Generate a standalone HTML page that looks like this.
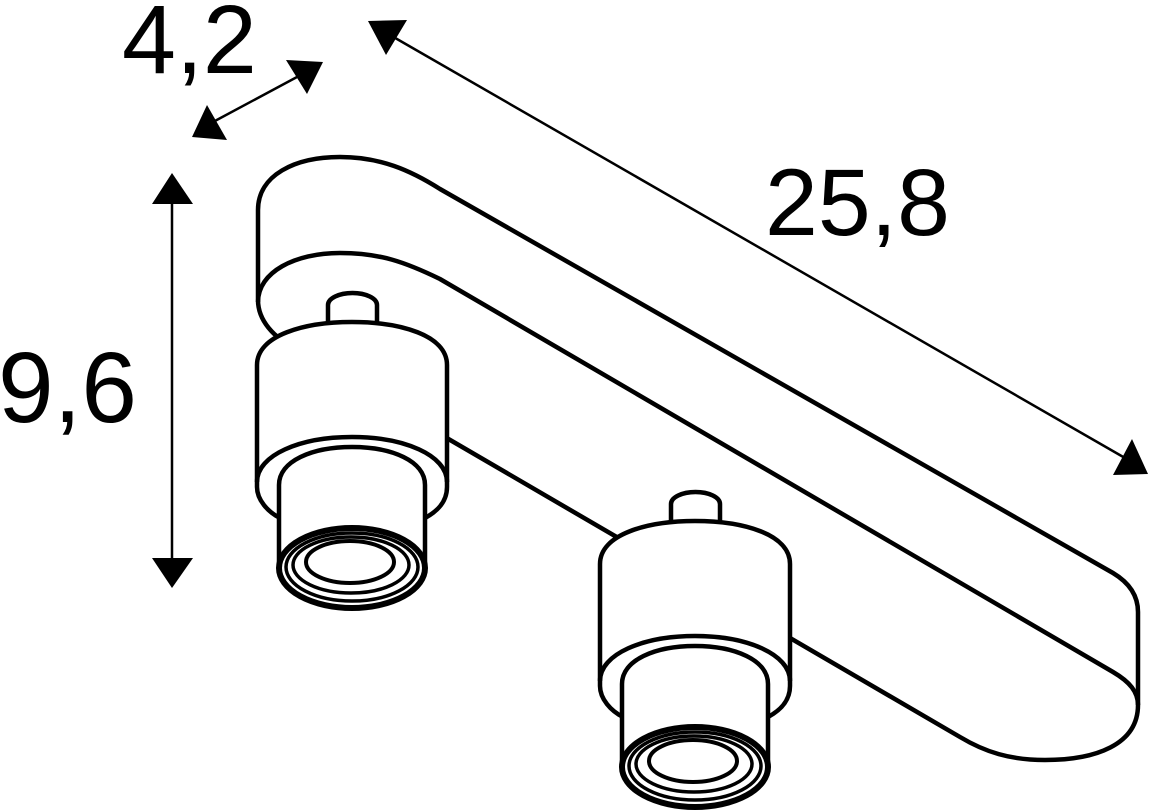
<!DOCTYPE html>
<html><head><meta charset="utf-8"><style>
html,body{margin:0;padding:0;background:#fff;}
svg{display:block;}
text{font-family:"Liberation Sans",Arial,sans-serif;fill:#000;}
</style></head><body>
<svg width="1150" height="812" viewBox="0 0 1150 812" xmlns="http://www.w3.org/2000/svg">
<defs>
<g id="spot" fill="#fff" stroke="#000" stroke-width="4.5" stroke-linejoin="round">
  <path d="M328,330 L328,305 A24.5,12 0 0 1 377,305 L377,330 Z"/>
  <path d="M257,487 L257,365 C257,335 305,322 352,322 C400,322 447,335 447,365 L447,487 C447,503 436,512 425,518 L280,518 C268,512 257,500 257,487 Z"/>
  <path d="M257,482 C257,455 300,437 352,437 C404,437 447,455 447,482" fill="none"/>
  <path d="M279,568 L279,485 C279,461 312,447 352,447 C392,447 425,461 425,485 L425,568 Z"/>
  <ellipse cx="352" cy="568" rx="73" ry="40" stroke-width="6"/>
  <ellipse cx="352" cy="567" rx="66" ry="34" stroke-width="3.5"/>
  <ellipse cx="351" cy="565" rx="58" ry="28" stroke-width="3.5"/>
  <ellipse cx="350" cy="562" rx="44" ry="21" stroke-width="4"/>
</g>
</defs>

<!-- body -->
<path d="M258,300 L258,210 C258,175 295,157 340,157 C380,157 410,170 440,189 L1113,573 Q1138,588 1138,612 L1138,705 C1138,745 1095,760 1045,760 C1010,760 985,752 960,737 L445,437 L300,352 C272,337 258,320 258,300 Z" fill="#fff" stroke="#000" stroke-width="4.5" stroke-linejoin="round"/>
<path d="M258,302 C258,272 295,253 340,253 C380,253 405,262 440,279 L1113,672 C1130,682 1138,692 1138,705" fill="none" stroke="#000" stroke-width="4.5"/>

<use href="#spot"/>
<use href="#spot" transform="translate(343,199)"/>

<!-- dimension 4,2 -->
<line x1="213" y1="122" x2="297" y2="77" stroke="#000" stroke-width="2.5"/>
<polygon points="286,60 323,62 307,94" fill="#000"/>
<polygon points="192,137 227,140 207,105" fill="#000"/>
<text x="122" y="73" font-size="97">4,2</text>

<!-- dimension 25,8 -->
<line x1="390" y1="35" x2="1125" y2="458" stroke="#000" stroke-width="2.5"/>
<polygon points="368,21 407,20 386,55" fill="#000"/>
<polygon points="1113,475 1132,439 1148,474" fill="#000"/>
<text x="765" y="235" font-size="95">25,8</text>

<!-- dimension 9,6 -->
<line x1="172" y1="195" x2="172" y2="565" stroke="#000" stroke-width="2.5"/>
<polygon points="152,204 193,204 172,173" fill="#000"/>
<polygon points="152,558 193,558 172,588" fill="#000"/>
<text x="-2" y="422" font-size="100">9,6</text>
</svg>
</body></html>
